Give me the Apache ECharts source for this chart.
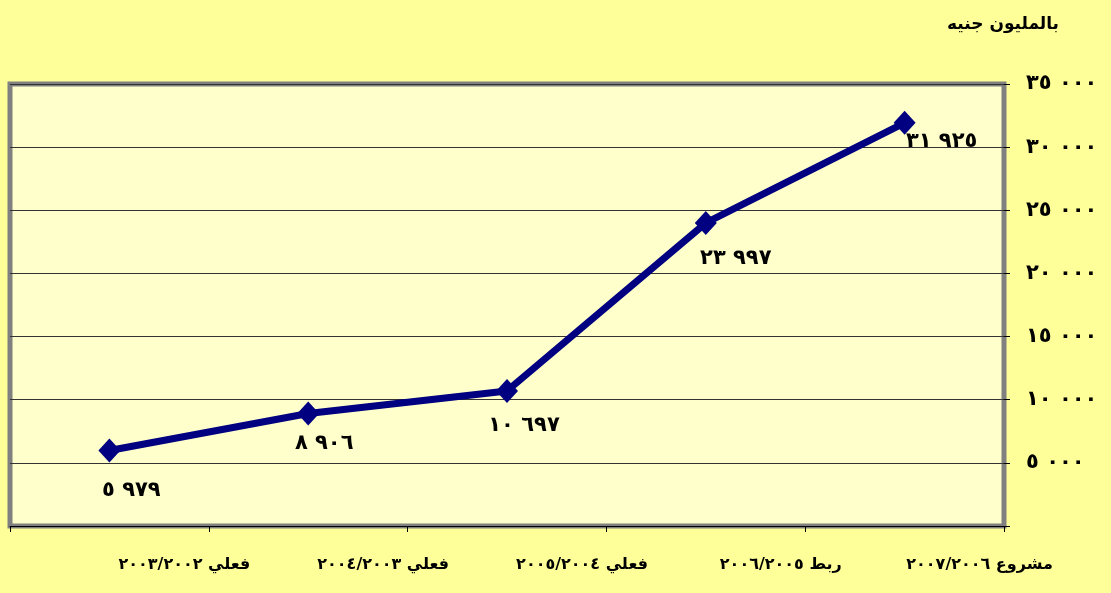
<!DOCTYPE html>
<html>
<head>
<meta charset="utf-8">
<script src="https://cdn.jsdelivr.net/npm/echarts@6/dist/echarts.min.js"></script>
<style>
html,body{margin:0;padding:0;background:#FFFF99;}
#c{width:1111px;height:593px;}
</style>
</head>
<body>
<div id="c"></div>
<script>
const categories = ['فعلي ٢٠٠٣/٢٠٠٢', 'فعلي ٢٠٠٤/٢٠٠٣', 'فعلي ٢٠٠٥/٢٠٠٤', 'ربط ٢٠٠٦/٢٠٠٥', 'مشروع ٢٠٠٧/٢٠٠٦'];
const values = [5979, 8906, 10697, 23997, 31925];
const unitLabel = 'بالمليون جنيه';
const yTicks = [0, 5000, 10000, 15000, 20000, 25000, 30000, 35000];

// label offsets (styling only)
const labelOffsets = [[22, 8], [16, -2], [17, 2], [30, 3], [37, -14]];

const AR = '٠١٢٣٤٥٦٧٨٩';
function toAr(n) {
  const s = String(n);
  let out = '';
  for (const ch of s) out += AR[+ch];
  return out;
}
function fmt(n) {
  const th = Math.floor(n / 1000);
  const rest = n % 1000;
  const r = String(rest).padStart(3, '0');
  if (th === 0) return toAr(rest);
  return toAr(th) + '\u200E \u200E' + toAr(r);
}

const chart = echarts.init(document.getElementById('c'), null, {renderer: 'canvas'});
const FONT = 'DejaVu Sans';
chart.setOption({
  backgroundColor: '#FFFF99',
  animation: false,
  title: {
    text: unitLabel,
    right: 47, top: 11,
    textStyle: {fontFamily: FONT, fontWeight: 'bold', fontSize: 17, color: '#000'}
  },
  grid: {
    left: 10, right: 107, top: 84, bottom: 67,
    show: true, backgroundColor: '#FFFFCC', borderColor: '#808080', borderWidth: 5
  },
  xAxis: {
    type: 'category',
    data: categories,
    boundaryGap: true,
    offset: 4,
    axisLine: {show: true, lineStyle: {color: '#000', width: 1}},
    axisTick: {show: true, length: 6, interval: 0, lineStyle: {color: '#000'}},
    axisLabel: {
      interval: 0, margin: 27, color: '#000', fontFamily: FONT, fontWeight: 'bold', fontSize: 16,
      padding: [0, 0, 0, 150]
    },
    splitLine: {show: false}
  },
  yAxis: {
    type: 'value',
    position: 'right',
    min: 0, max: 35000, interval: 5000,
    axisLine: {show: false},
    axisTick: {show: true, length: 6, lineStyle: {color: '#000'}},
    splitLine: {show: true, lineStyle: {color: '#333', width: 1}},
    axisLabel: {
      margin: 22, color: '#000', fontFamily: FONT, fontWeight: 'bold', fontSize: 21,
      formatter: v => (yTicks.indexOf(v) > 0 ? fmt(v) : '')
    }
  },
  series: [{
    type: 'line',
    data: values.map((v, i) => ({
      value: v,
      label: {offset: labelOffsets[i]}
    })),
    lineStyle: {color: '#000080', width: 7},
    itemStyle: {color: '#000080'},
    symbol: 'diamond',
    symbolSize: [22, 24],
    label: {
      show: true, position: 'bottom', distance: 10,
      color: '#000', fontFamily: FONT, fontWeight: 'bold', fontSize: 21,
      formatter: p => fmt(p.value)
    }
  }]
});
</script>
</body>
</html>
